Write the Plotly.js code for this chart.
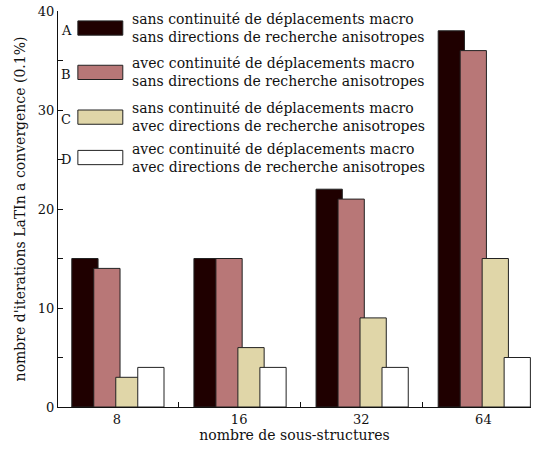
<!DOCTYPE html>
<html><head><meta charset="utf-8">
<script src="https://cdn.plot.ly/plotly-3.0.1.min.js"></script>
<style>body{margin:0;background:#fff}#chart{width:539px;height:453px}</style>
</head><body><div id="chart"></div>
<script>
const categories = ['8', '16', '32', '64'];
const seriesLetters = ['A', 'B', 'C', 'D'];
const seriesNames = [
  'sans continuité de déplacements macro<br>sans directions de recherche anisotropes',
  'avec continuité de déplacements macro<br>sans directions de recherche anisotropes',
  'sans continuité de déplacements macro<br>avec directions de recherche anisotropes',
  'avec continuité de déplacements macro<br>avec directions de recherche anisotropes'
];
const valuesA = [15, 15, 22, 38];
const valuesB = [14, 15, 21, 36];
const valuesC = [3, 6, 9, 15];
const valuesD = [4, 4, 4, 5];
const yTickVals = [0, 10, 20, 30, 40];

const series = [valuesA, valuesB, valuesC, valuesD];
const colors = ['#1f0000', '#b87777', '#e0d6a8', '#ffffff'];
const offsets = [-0.37, -0.19, -0.01, 0.17];
const font = "'DejaVu Serif', serif";

const traces = series.map((vals, i) => ({
  type: 'bar',
  x: categories,
  y: vals,
  name: seriesLetters[i],
  width: 0.215,
  offset: offsets[i],
  marker: {color: colors[i], line: {color: '#222', width: 1}},
  showlegend: false,
  hoverinfo: 'skip'
}));

const shapes = [];
const annotations = [];
const rowY = [0.957, 0.845, 0.732, 0.63];
series.forEach((_, i) => {
  const yc = rowY[i];
  shapes.push({type: 'rect', xref: 'paper', yref: 'paper',
    x0: 0.042, x1: 0.137, y0: yc - 0.018, y1: yc + 0.018,
    fillcolor: colors[i], line: {color: '#222', width: 1}});
  annotations.push({xref: 'paper', yref: 'paper', x: 0.017, y: yc - 0.005,
    text: seriesLetters[i], showarrow: false, xanchor: 'center', yanchor: 'middle',
    font: {family: font, size: 13, color: '#111'}});
  annotations.push({xref: 'paper', yref: 'paper', x: 0.152, y: yc,
    text: seriesNames[i], showarrow: false, xanchor: 'left', yanchor: 'middle', align: 'left',
    font: {family: font, size: 14, color: '#111'}});
});

const layout = {
  width: 539, height: 453,
  margin: {l: 58, r: 8, t: 11, b: 46},
  paper_bgcolor: '#fff', plot_bgcolor: '#fff',
  barmode: 'overlay',
  font: {family: font, size: 13, color: '#111'},
  xaxis: {
    type: 'category', range: [-0.483, 3.39],
    showline: true, linecolor: '#111', linewidth: 1,
    ticks: 'inside', tickson: 'boundaries', ticklen: 5, tickcolor: '#111',
    showgrid: false, zeroline: false,
    tickfont: {family: font, size: 13},
    title: {text: 'nombre de sous-structures', font: {family: font, size: 14}, standoff: 4}
  },
  yaxis: {
    range: [0, 40], tickvals: yTickVals,
    showline: true, linecolor: '#111', linewidth: 1,
    ticks: 'inside', ticklen: 5, tickcolor: '#111',
    minor: {dtick: 5, ticks: 'inside', ticklen: 5, tickcolor: '#111', showgrid: false},
    showgrid: false, zeroline: false,
    tickfont: {family: font, size: 13},
    title: {text: "nombre d'iterations LaTIn a convergence (0.1%)", font: {family: font, size: 14}, standoff: 8}
  },
  shapes: shapes,
  annotations: annotations
};

Plotly.newPlot('chart', traces, layout, {displayModeBar: false, staticPlot: true});
</script></body></html>
